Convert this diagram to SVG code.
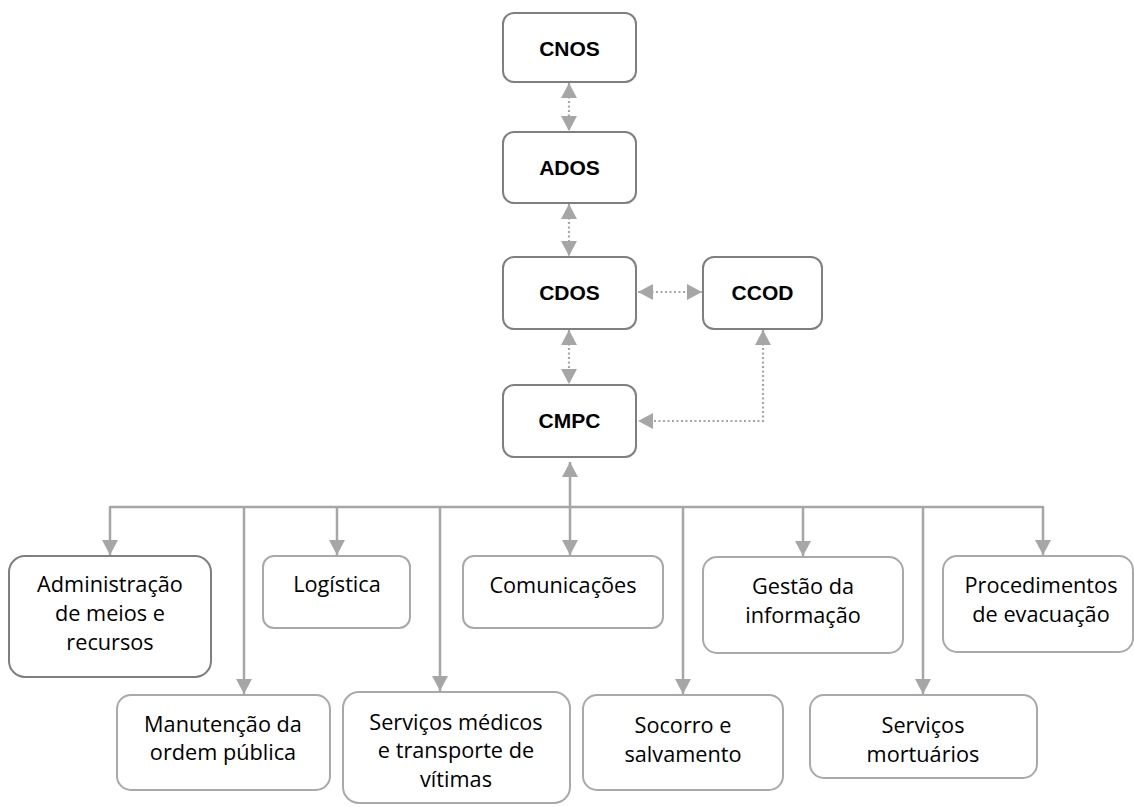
<svg xmlns="http://www.w3.org/2000/svg" width="1134" height="807" viewBox="0 0 1134 807">
<style>
.top{fill:#fff;stroke:#7f7f7f;stroke-width:2}
.box{fill:#fff;stroke:#a9a9a9;stroke-width:2}
.dark{fill:#fff;stroke:#7f7f7f;stroke-width:2}
.tb{font-family:"Liberation Sans",Arial,sans-serif;font-weight:bold;font-size:21px;fill:#000;text-anchor:middle}
.t{font-family:"Open Sans","Liberation Sans",sans-serif;font-size:21.7px;fill:#000;text-anchor:middle}
.dot{fill:none;stroke:#a6a6a6;stroke-width:2.2;stroke-dasharray:2 2.5}
.sol{fill:none;stroke:#a6a6a6;stroke-width:2.5}
</style>
<defs>
<marker id="ah" markerUnits="userSpaceOnUse" markerWidth="16" markerHeight="16" refX="15" refY="8" orient="auto-start-reverse" viewBox="0 0 16 16">
<path d="M0,0 L15,8 L0,16 z" fill="#a6a6a6"/>
</marker>
</defs>
<g id="connectors">
<line class="dot" x1="569" y1="83" x2="569" y2="131" marker-start="url(#ah)" marker-end="url(#ah)"/>
<line class="dot" x1="569" y1="204" x2="569" y2="256" marker-start="url(#ah)" marker-end="url(#ah)"/>
<line class="dot" x1="569" y1="330" x2="569" y2="384" marker-start="url(#ah)" marker-end="url(#ah)"/>
<line class="dot" x1="638" y1="292" x2="702" y2="292" marker-start="url(#ah)" marker-end="url(#ah)"/>
<polyline class="dot" points="763,330 763,421 638,421" marker-start="url(#ah)" marker-end="url(#ah)"/>
<line class="sol" x1="570" y1="462" x2="570" y2="555" marker-start="url(#ah)" marker-end="url(#ah)"/>
<line class="sol" x1="110" y1="507" x2="1043" y2="507"/>
<line class="sol" x1="110" y1="506" x2="110" y2="555" marker-end="url(#ah)"/>
<line class="sol" x1="337" y1="506" x2="337" y2="555" marker-end="url(#ah)"/>
<line class="sol" x1="803" y1="506" x2="803" y2="556" marker-end="url(#ah)"/>
<line class="sol" x1="1043" y1="506" x2="1043" y2="555" marker-end="url(#ah)"/>
<line class="sol" x1="244" y1="506" x2="244" y2="694" marker-end="url(#ah)"/>
<line class="sol" x1="440" y1="506" x2="440" y2="691" marker-end="url(#ah)"/>
<line class="sol" x1="683" y1="506" x2="683" y2="694" marker-end="url(#ah)"/>
<line class="sol" x1="923" y1="506" x2="923" y2="694" marker-end="url(#ah)"/>
</g>
<g id="cnos"><rect class="top" x="503" y="13" width="133" height="69" rx="11"/><text class="tb" x="569.5" y="56">CNOS</text></g>
<g id="ados"><rect class="top" x="503" y="132" width="133" height="71" rx="11"/><text class="tb" x="569.5" y="175">ADOS</text></g>
<g id="cdos"><rect class="top" x="503" y="257" width="133" height="72" rx="11"/><text class="tb" x="569.5" y="300">CDOS</text></g>
<g id="ccod"><rect class="top" x="703" y="257" width="119" height="72" rx="11"/><text class="tb" x="762.5" y="300">CCOD</text></g>
<g id="cmpc"><rect class="top" x="503" y="385" width="133" height="72" rx="11"/><text class="tb" x="569.5" y="428">CMPC</text></g>
<g id="admin"><rect class="dark" x="9" y="556" width="202" height="121" rx="16"/><text class="t" x="110"><tspan x="110" y="592">Administração</tspan><tspan x="110" y="621">de meios e</tspan><tspan x="110" y="650">recursos</tspan></text></g>
<g id="logistica"><rect class="box" x="263" y="556" width="147" height="72" rx="11"/><text class="t" x="337" y="592">Logística</text></g>
<g id="comunicacoes"><rect class="box" x="463" y="556" width="200" height="72" rx="11"/><text class="t" x="563" y="593">Comunicações</text></g>
<g id="gestao"><rect class="box" x="703" y="557" width="200" height="96" rx="14"/><text class="t"><tspan x="803" y="594">Gestão da</tspan><tspan x="803" y="623">informação</tspan></text></g>
<g id="procedimentos"><rect class="box" x="943" y="556" width="190" height="96" rx="14"/><text class="t"><tspan x="1041" y="593">Procedimentos</tspan><tspan x="1041" y="622">de evacuação</tspan></text></g>
<g id="manutencao"><rect class="box" x="117" y="695" width="213" height="95" rx="14"/><text class="t"><tspan x="223" y="732">Manutenção da</tspan><tspan x="223" y="760">ordem pública</tspan></text></g>
<g id="medicos"><rect class="box" x="343" y="692" width="227" height="111" rx="16"/><text class="t"><tspan x="456" y="730">Serviços médicos</tspan><tspan x="456" y="758">e transporte de</tspan><tspan x="456" y="787">vítimas</tspan></text></g>
<g id="socorro"><rect class="box" x="583" y="695" width="200" height="95" rx="14"/><text class="t"><tspan x="683" y="733">Socorro e</tspan><tspan x="683" y="762">salvamento</tspan></text></g>
<g id="mortuarios"><rect class="box" x="810" y="695" width="227" height="83" rx="14"/><text class="t"><tspan x="923" y="733">Serviços</tspan><tspan x="923" y="762">mortuários</tspan></text></g>
</svg>
